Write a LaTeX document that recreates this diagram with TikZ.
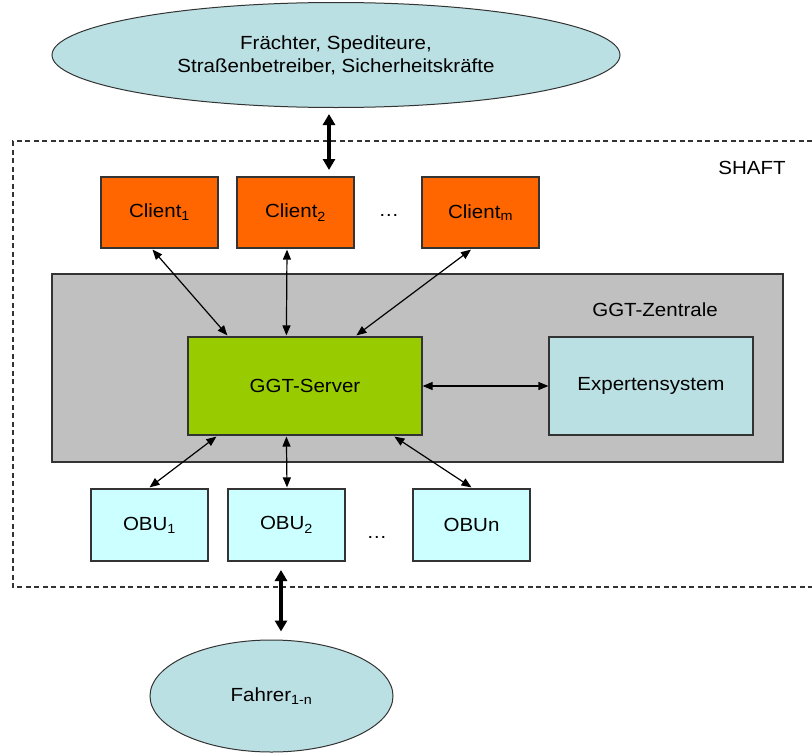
\documentclass[tikz,border=0pt]{standalone}
\usepackage{fontspec}
\setmainfont[FakeStretch=1.08]{Liberation Sans}
\usetikzlibrary{arrows.meta,shapes.geometric,calc}
\definecolor{orangebox}{HTML}{FF6600}
\definecolor{greenbox}{HTML}{99CC00}
\definecolor{graybox}{HTML}{C0C0C0}
\definecolor{tealbox}{HTML}{BBE0E3}
\definecolor{obubox}{HTML}{CCFFFF}
\definecolor{edge}{HTML}{333333}
\tikzset{
  base/.style={draw=edge, line width=1.2pt, font=\fontsize{19}{23}\selectfont, align=center, inner sep=0pt},
  clientbox/.style={base, fill=orangebox, minimum width=117pt, minimum height=71pt},
  obu/.style={base, fill=obubox, minimum width=117pt, minimum height=72pt},
  oval/.style={base, ellipse, fill=tealbox, line width=1pt},
  thin/.style={line width=1.2pt, {Triangle[length=10pt,width=8pt]}-{Triangle[length=10pt,width=8pt]}},
  thick/.style={line width=4.5pt, {Triangle[length=11pt,width=12pt]}-{Triangle[length=11pt,width=12pt]}},
  lbl/.style={font=\fontsize{19}{23}\selectfont, inner sep=0pt}
}
\begin{document}
\begin{tikzpicture}[x=1pt,y=-1pt]
\useasboundingbox (0,0) rectangle (812,755);
% SHAFT frame (open on the right)
\draw[line width=1.2pt, dash pattern=on 5pt off 3.5pt, edge] (812,141) -- (13,141) -- (13,587) -- (812,587);
\node[lbl] (shaft) at (752,168) {SHAFT};
% top ellipse
\node[oval, minimum width=568pt, minimum height=105pt] (top) at (336,55) {Frächter, Spediteure,\\Straßenbetreiber, Sicherheitskräfte};
% clients
\node[clientbox] (c1) at (159.5,212.5) {Client\textsubscript{1}};
\node[clientbox] (c2) at (295.5,212.5) {Client\textsubscript{2}};
\node[clientbox] (cm) at (480.5,212.5) {Client\textsubscript{m}};
\node[lbl] (cdots) at (389,215) {…};
% Zentrale
\node[base, fill=graybox, minimum width=731pt, minimum height=188pt] (zen) at (417.5,368) {};
\node[lbl] (zenl) at (655,310) {GGT-Zentrale};
\node[base, fill=greenbox, minimum width=234pt, minimum height=98pt] (server) at (305,386) {GGT-Server};
\node[base, fill=tealbox, minimum width=204pt, minimum height=98pt] (expert) at (651,386) {Expertensystem};
% OBUs
\node[obu] (o1) at (149.5,525) {OBU\textsubscript{1}};
\node[obu] (o2) at (286.5,525) {OBU\textsubscript{2}};
\node[obu] (on) at (471.5,525) {OBUn};
\node[lbl] (odots) at (377,537) {…};
% bottom ellipse
\node[oval, minimum width=243pt, minimum height=112pt] (fahrer) at (271.5,696) {Fahrer\textsubscript{1-n}};
% connectors
\draw[thin] ($(c1.south)+(-7,1)$) -- ($(server.north west)+(40,-1)$);
\draw[thin] ($(c2.south)+(-8.5,1)$) -- ($(server.north west)+(99,-1)$);
\draw[thin] ($(cm.south)+(-9.5,1)$) -- ($(server.north west)+(169,-1)$);
\draw[thin] (server.east) -- (expert.west);
\draw[thin] ($(server.south west)+(29,1)$) -- ($(o1.north)+(0,-1)$);
\draw[thin] ($(server.south west)+(99,1)$) -- ($(o2.north)+(0.5,-1)$);
\draw[thin] ($(server.south west)+(207,1)$) -- ($(on.north)+(0,-1)$);
\coordinate (tin) at (329,170);
\draw[thick] ($(top.south)+(-7,6)$) -- (tin);
\coordinate (bin) at (281,570);
\draw[thick] (bin) -- ($(fahrer.north)+(9.5,-8)$);
\end{tikzpicture}
\end{document}
